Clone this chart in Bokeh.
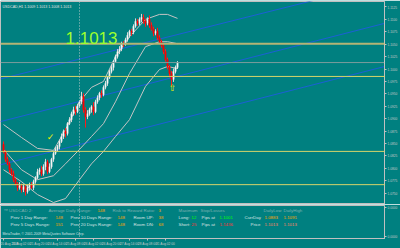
import numpy as np
from bokeh.plotting import figure
from bokeh.layouts import column
from bokeh.models import Range1d, FixedTicker, Span, Label, NumeralTickFormatter, ColumnDataSource
from bokeh.embed import file_html
from bokeh.resources import INLINE
from bokeh.core.properties import value

# ---------------- data ----------------
symbol_title = "USDCAD,H1  1.1009 1.1013 1.1008 1.1013"
bid = 1.1013
first_open = 1.0848
closes = [1.0834, 1.0818, 1.0809, 1.0797, 1.0789, 1.0777, 1.0769, 1.0761, 1.0765, 1.0757,
          1.0763, 1.0753, 1.0761, 1.0767, 1.0761, 1.0773, 1.0781, 1.0793, 1.0797, 1.0789,
          1.0803, 1.0813, 1.0793, 1.0803, 1.0818, 1.0830, 1.0838, 1.0844, 1.0854, 1.0864,
          1.0874, 1.0870, 1.0890, 1.0898, 1.0910, 1.0918, 1.0914, 1.0926, 1.0934, 1.0945,
          1.0918, 1.0904, 1.0910, 1.0918, 1.0924, 1.0914, 1.0934, 1.0942, 1.0951, 1.0948,
          1.0963, 1.0971, 1.0983, 1.0995, 1.1003, 1.1015, 1.1025, 1.1035, 1.1040, 1.1051,
          1.1050, 1.1059, 1.1068, 1.1076, 1.1074, 1.1086, 1.1096, 1.1092, 1.1100, 1.1104,
          1.1096, 1.1092, 1.1100, 1.1088, 1.1080, 1.1072, 1.1076, 1.1063, 1.1055, 1.1047,
          1.1035, 1.1019, 1.1005, 1.0991, 1.0979, 1.0995, 1.1003, 1.1013]
wick_up_pips = [6, 3, 5, 4, 3, 6, 4, 3, 7, 4,
                5, 3, 6, 4, 5, 4, 3, 6, 4, 8,
                5, 6, 4, 7, 3, 4, 5, 3, 4, 6,
                4, 7, 3, 5, 4, 6, 8, 4, 3, 9,
                6, 5, 7, 4, 3, 9, 4, 5, 3, 6,
                4, 5, 3, 4, 6, 3, 4, 5, 6, 4,
                5, 4, 6, 3, 5, 4, 6, 5, 4, 7,
                6, 5, 4, 8, 6, 5, 4, 7, 5, 4,
                6, 5, 4, 3, 5, 6, 4, 3]
wick_dn_pips = [4, 5, 3, 6, 4, 5, 3, 7, 4, 6,
                5, 8, 4, 6, 3, 5, 4, 3, 6, 5,
                4, 7, 5, 3, 4, 5, 3, 4, 6, 3,
                5, 8, 4, 3, 5, 4, 7, 3, 4, 5,
                6, 22, 5, 4, 6, 7, 3, 4, 5, 6,
                3, 4, 5, 3, 4, 6, 3, 4, 5, 4,
                6, 3, 4, 5, 7, 4, 3, 5, 4, 6,
                5, 7, 4, 5, 3, 6, 4, 5, 6, 4,
                5, 4, 6, 8, 14, 5, 4, 3]

band_bars = [0, 9, 17, 25, 31, 38, 44, 50, 56, 63, 71, 78, 82, 87]
band_upper = [1.0888, 1.0862, 1.0840, 1.0836, 1.0878, 1.0934, 1.0963, 1.0975, 1.1025, 1.1065, 1.1100, 1.1110, 1.1110, 1.1102]
band_mid = [1.0838, 1.0797, 1.0777, 1.0785, 1.0809, 1.0838, 1.0864, 1.0890, 1.0934, 1.0991, 1.1045, 1.1055, 1.1055, 1.1051]
band_lower = [1.0797, 1.0773, 1.0747, 1.0731, 1.0739, 1.0777, 1.0809, 1.0834, 1.0864, 1.0898, 1.0965, 1.0999, 1.1005, 1.1001]

trend_x0 = [-1.5, -1.5, -1.5]
trend_p0 = [1.0980, 1.0894, 1.0807]
trend_x1 = [192.5, 192.5, 192.5]
trend_p1 = [1.1176, 1.1094, 1.1007]

level_prices = [1.1051, 1.0985, 1.0834, 1.0767]
level_texts = ["1.1051", "1.0985", "1.0834", "1.0767"]

signal_bars = [23.5, 84.5]
signal_prices = [1.0864, 1.0961]
signal_marks = ["\u2713", "\u21e7"]

cursor_bar = 38
price_ticks = [1.0750, 1.0775, 1.0800, 1.0825, 1.0850, 1.0875, 1.0900, 1.0925, 1.0950,
               1.0975, 1.1000, 1.1025, 1.1050, 1.1075, 1.1100, 1.1125]

time_tick_bars = [0, 9, 18, 27, 36, 45, 54, 63, 72, 81]
time_tick_labels = ["20 Aug 2009", "21 Aug 02:00", "21 Aug 20:00", "24 Aug 14:00", "25 Aug 08:00",
                    "26 Aug 02:00", "26 Aug 20:00", "27 Aug 14:00", "28 Aug 08:00", "31 Aug 02:00"]

panel_texts = ["\u2122 USDCAD 2:", "Average Daily Range:", "148", "Risk to Reward Ratio:", "3",
               "Maximum", "Stop/Losses", "DailyLow", "DailyHigh",
               "Prev 1 Day Range:", "148", "Prev 10 Days Range:", "148", "Room UP:", "38",
               "Long:", "12", "Pips at", "1.1001", "CurrDay", "1.0883", "1.1091",
               "Prev 5 Days Range:", "151", "Prev 20 Days Range:", "148", "Room DN:", "68",
               "Short:", "25", "Pips at", "1.1436", "Price", "1.1013", "1.1013",
               "MetaTrader, \u00a9 2001-2009 MetaQuotes Software Corp."]

# ---------------- styles / layout ----------------
TEAL = "#008080"
DIM = "#7fb0b0"
LIGHT = "#d8e4e4"
ORANGE = "#ffa500"
GREEN = "#00ff00"
RED = "#ff3030"
CORAL = "#ff8060"
panel_px = [3, 48, 97, 112, 158, 178, 200, 263, 283,
            10, 55, 70, 117, 133, 158, 178, 191, 201, 219, 244, 264, 283,
            10, 55, 70, 117, 133, 158, 178, 191, 201, 219, 250, 264, 283,
            2]
panel_py = [5] * 9 + [13] * 13 + [21] * 13 + [31]
panel_col = [DIM, DIM, ORANGE, DIM, ORANGE, DIM, DIM, DIM, DIM,
             LIGHT, ORANGE, LIGHT, ORANGE, LIGHT, ORANGE, LIGHT, GREEN, LIGHT, GREEN, LIGHT, ORANGE, ORANGE,
             LIGHT, ORANGE, LIGHT, ORANGE, LIGHT, ORANGE, LIGHT, RED, LIGHT, RED, LIGHT, CORAL, CORAL,
             LIGHT]
panel_size = ["4.4px"] * 35 + ["3.4px"]

FONT = "Liberation Sans"
AX = "#c8c8c8"
AXFS = "3.2px"

opens = [first_open] + closes[:-1]
o = np.array(opens)
c = np.array(closes)
hi = np.maximum(o, c) + np.array(wick_up_pips) * 0.0001
lo = np.minimum(o, c) - np.array(wick_dn_pips) * 0.0001
xb = np.arange(len(c))
up = c >= o

x_range = Range1d(-1.5, 190.5)
p = figure(width=400, height=204, x_range=x_range, y_range=Range1d(1.0727, 1.1136),
           output_backend="svg", toolbar_location=None, x_axis_location=None,
           y_axis_location="right", min_border_left=0, min_border_top=1,
           min_border_bottom=0, min_border_right=0)
p.background_fill_color = TEAL
p.border_fill_color = TEAL
p.outline_line_color = "#c0c0c0"
p.grid.visible = False
ya = p.yaxis[0]
ya.ticker = FixedTicker(ticks=price_ticks)
ya.formatter = NumeralTickFormatter(format="0.0000")
ya.axis_line_color = "#c0c0c0"
ya.major_tick_line_color = "#c0c0c0"
ya.minor_tick_line_color = None
ya.major_tick_out = 2
ya.major_tick_in = 0
ya.major_label_standoff = 1
ya.major_label_text_font = FONT
ya.major_label_text_font_size = AXFS
ya.major_label_text_color = AX

# horizontal levels
p.add_layout(Span(location=level_prices[0], dimension="width", line_color="#b4b474", line_width=2))
for lv in level_prices[1:]:
    p.add_layout(Span(location=lv, dimension="width", line_color="#d4d46a", line_width=1))
p.add_layout(Span(location=bid, dimension="width", line_color="#7a9c9c", line_width=1))
p.add_layout(Span(location=cursor_bar, dimension="height", line_color="#b8c8c8", line_width=1, line_dash="1 2"))

# channel lines
p.segment(trend_x0, trend_p0, trend_x1, trend_p1, line_color="#1c5fd6", line_width=1)

# bands
for arr in (band_upper, band_mid, band_lower):
    p.line(band_bars, arr, line_color="#c4c4c4", line_width=1)

# candles
src_up = ColumnDataSource(dict(x=xb[up], hi=hi[up], lo=lo[up], top=np.maximum(o, c)[up], bot=np.minimum(o, c)[up]))
src_dn = ColumnDataSource(dict(x=xb[~up], hi=hi[~up], lo=lo[~up], top=np.maximum(o, c)[~up], bot=np.minimum(o, c)[~up]))
p.segment("x", "hi", "x", "lo", source=src_up, line_color="#d8d8d8", line_width=1)
p.vbar("x", 0.6, "top", "bot", source=src_up, fill_color="#ffffff", line_color="#e8e8e8", line_width=0.6)
p.segment("x", "hi", "x", "lo", source=src_dn, line_color="#ff1a1a", line_width=1)
p.vbar("x", 0.6, "top", "bot", source=src_dn, fill_color="#ff0000", line_color="#ff0000", line_width=0.6)

# signals
p.text(signal_bars, signal_prices, text=signal_marks, text_color="#f0f000",
       text_font=value("DejaVu Sans"), text_font_size=value("9px"),
       text_align="center", text_baseline="middle")

# level markers on the price scale
for lv, tx in zip(level_prices, level_texts):
    p.add_layout(Label(x=190.6, y=lv, text=tx, text_font=FONT, text_font_size=AXFS,
                       text_color="#404000", background_fill_color="#f0f020",
                       text_baseline="middle", text_align="left"))
p.add_layout(Label(x=190.6, y=bid, text="1.1013", text_font=FONT, text_font_size=AXFS,
                   text_color="#404040", background_fill_color="#ffffff",
                   text_baseline="middle", text_align="left"))

# texts
p.add_layout(Label(x=2, y=200, x_units="screen", y_units="screen", text=symbol_title,
                   text_font=FONT, text_font_size="3.6px", text_color="#e0e0e0", text_baseline="top"))
p.add_layout(Label(x=65, y=167, x_units="screen", y_units="screen", text=f"{bid:.4f}",
                   text_font="Liberation Sans", text_font_size="17px", text_color="#9cff2e",
                   text_baseline="alphabetic"))

# ---------------- lower panel ----------------
q = figure(width=400, height=44, x_range=x_range, y_range=Range1d(36, 0),
           output_backend="svg", toolbar_location=None, y_axis_location="right",
           min_border_left=0, min_border_top=1, min_border_bottom=0, min_border_right=0)
q.background_fill_color = TEAL
q.border_fill_color = TEAL
q.outline_line_color = "#c0c0c0"
q.grid.visible = False
qy = q.yaxis[0]
qy.ticker = FixedTicker(ticks=[2, 34])
qy.major_label_overrides = {2: "0.0000", 34: "0.0000"}
qx = q.xaxis[0]
qx.ticker = FixedTicker(ticks=time_tick_bars)
qx.major_label_overrides = {b: t for b, t in zip(time_tick_bars, time_tick_labels)}
for ax in (qy, qx):
    ax.axis_line_color = "#c0c0c0"
    ax.major_tick_line_color = "#c0c0c0"
    ax.minor_tick_line_color = None
    ax.major_tick_out = 2
    ax.major_tick_in = 0
    ax.major_label_standoff = 1
    ax.major_label_text_font = FONT
    ax.major_label_text_font_size = AXFS
    ax.major_label_text_color = AX
qx.major_label_text_align = "left"
q.add_layout(Span(location=cursor_bar, dimension="height", line_color="#b8c8c8", line_width=1, line_dash="1 2"))

px2bar = lambda px: (px - 3) / 2.0
q.text([px2bar(v) for v in panel_px], panel_py, text=panel_texts, text_color=panel_col,
       text_font=value(FONT), text_font_size=panel_size, text_baseline="middle", text_align="left")

layout = column(p, q, spacing=0)
open("out.html", "w").write(file_html(layout, INLINE))
